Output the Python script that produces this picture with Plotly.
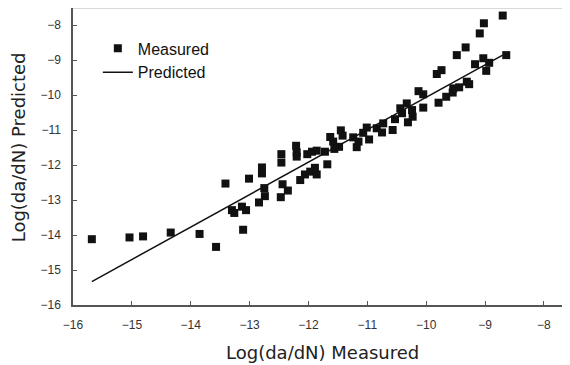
import plotly.graph_objects as go

# Measured points
measured_x = [-15.68, -15.04, -14.81, -14.34, -13.85, -13.57, -13.41, -13.30, -13.26, -13.13,
              -13.06, -13.11, -13.01, -12.84, -12.79, -12.79, -12.75, -12.74, -12.46, -12.46,
              -12.44, -12.35, -12.47, -12.21, -12.20, -12.20, -12.14, -12.06, -11.97, -11.89,
              -11.86, -12.02, -11.94, -11.86, -11.68, -11.72, -11.63, -11.58, -11.48, -11.45,
              -11.42, -11.24, -11.15, -11.18, -11.56, -11.07, -11.01, -10.97, -10.84, -10.75,
              -10.73, -10.57, -10.53, -10.44, -10.41, -10.33, -10.31, -10.24, -10.23, -10.13,
              -10.05, -10.05, -9.82, -9.74, -9.79, -9.66, -9.55, -9.54, -9.44, -9.31,
              -9.27, -9.48, -9.33, -9.17, -9.03, -8.93, -8.98, -9.09, -9.02, -8.70, -8.64]
measured_y = [-14.12, -14.07, -14.04, -13.93, -13.97, -14.34, -12.53, -13.29, -13.37, -13.19,
              -13.29, -13.85, -12.39, -13.07, -12.07, -12.24, -12.66, -12.89, -11.93, -11.69,
              -12.55, -12.73, -12.92, -11.45, -11.64, -11.76, -12.43, -12.27, -12.19, -12.08,
              -12.27, -11.69, -11.62, -11.59, -11.98, -11.62, -11.20, -11.33, -11.48, -11.01,
              -11.16, -11.21, -11.33, -11.49, -11.54, -11.08, -10.93, -11.27, -10.95, -11.07,
              -10.81, -11.00, -10.69, -10.38, -10.52, -10.24, -10.78, -10.43, -10.62, -9.89,
              -9.98, -10.36, -9.40, -9.29, -10.22, -10.05, -9.93, -9.81, -9.78, -9.62,
              -9.69, -8.86, -8.64, -9.12, -8.95, -9.08, -9.31, -8.24, -7.95, -7.73, -8.86]

# Predicted line end points
predicted_x = [-15.68, -8.70]
predicted_y = [-15.33, -8.86]

tick_vals = [-16, -15, -14, -13, -12, -11, -10, -9, -8]

fig = go.Figure()
fig.add_trace(go.Scatter(
    x=measured_x, y=measured_y, mode="markers", name="Measured",
    marker=dict(symbol="square", size=8, color="#111111"),
))
fig.add_trace(go.Scatter(
    x=predicted_x, y=predicted_y, mode="lines", name="Predicted",
    line=dict(color="#111111", width=1.5),
))

axis_common = dict(
    showgrid=False, zeroline=False, showline=True,
    linecolor="#555555", linewidth=1.5,
    ticks="inside", ticklen=4, tickcolor="#555555", tickwidth=1,
    tickfont=dict(family="Liberation Sans, Arial, sans-serif", size=12, color="#333333"),
    tickvals=tick_vals,
)

fig.update_layout(
    width=562, height=357,
    margin=dict(l=65, r=0, t=0, b=60),
    paper_bgcolor="white", plot_bgcolor="white",
    showlegend=True,
    legend=dict(
        x=0.05, y=0.921, xanchor="left", yanchor="top",
        bgcolor="rgba(0,0,0,0)",
        font=dict(family="Liberation Sans, Arial, sans-serif", size=16, color="#111111"),
        tracegroupgap=0,
    ),
    xaxis=dict(range=[-16, -7.557], ticklabelstandoff=8, **axis_common),
    yaxis=dict(range=[-16, -7.514], ticklabelstandoff=8, **axis_common),
    shapes=[dict(type="line", xref="paper", yref="paper", x0=0, x1=1, y0=1, y1=1,
                 line=dict(color="#cccccc", width=1.5))],
    annotations=[
        dict(text="Log(da/dN) Measured", xref="paper", yref="paper", x=0.503, y=-0.1616,
             xanchor="center", yanchor="middle", showarrow=False,
             font=dict(family="DejaVu Sans, sans-serif", size=18, color="#222222")),
        dict(text="Log(da/dN) Predicted", xref="paper", yref="paper", x=-0.108, y=0.532,
             xanchor="center", yanchor="middle", showarrow=False, textangle=-90,
             font=dict(family="DejaVu Sans, sans-serif", size=18, color="#222222")),
    ],
)

fig.write_html("out.html")
